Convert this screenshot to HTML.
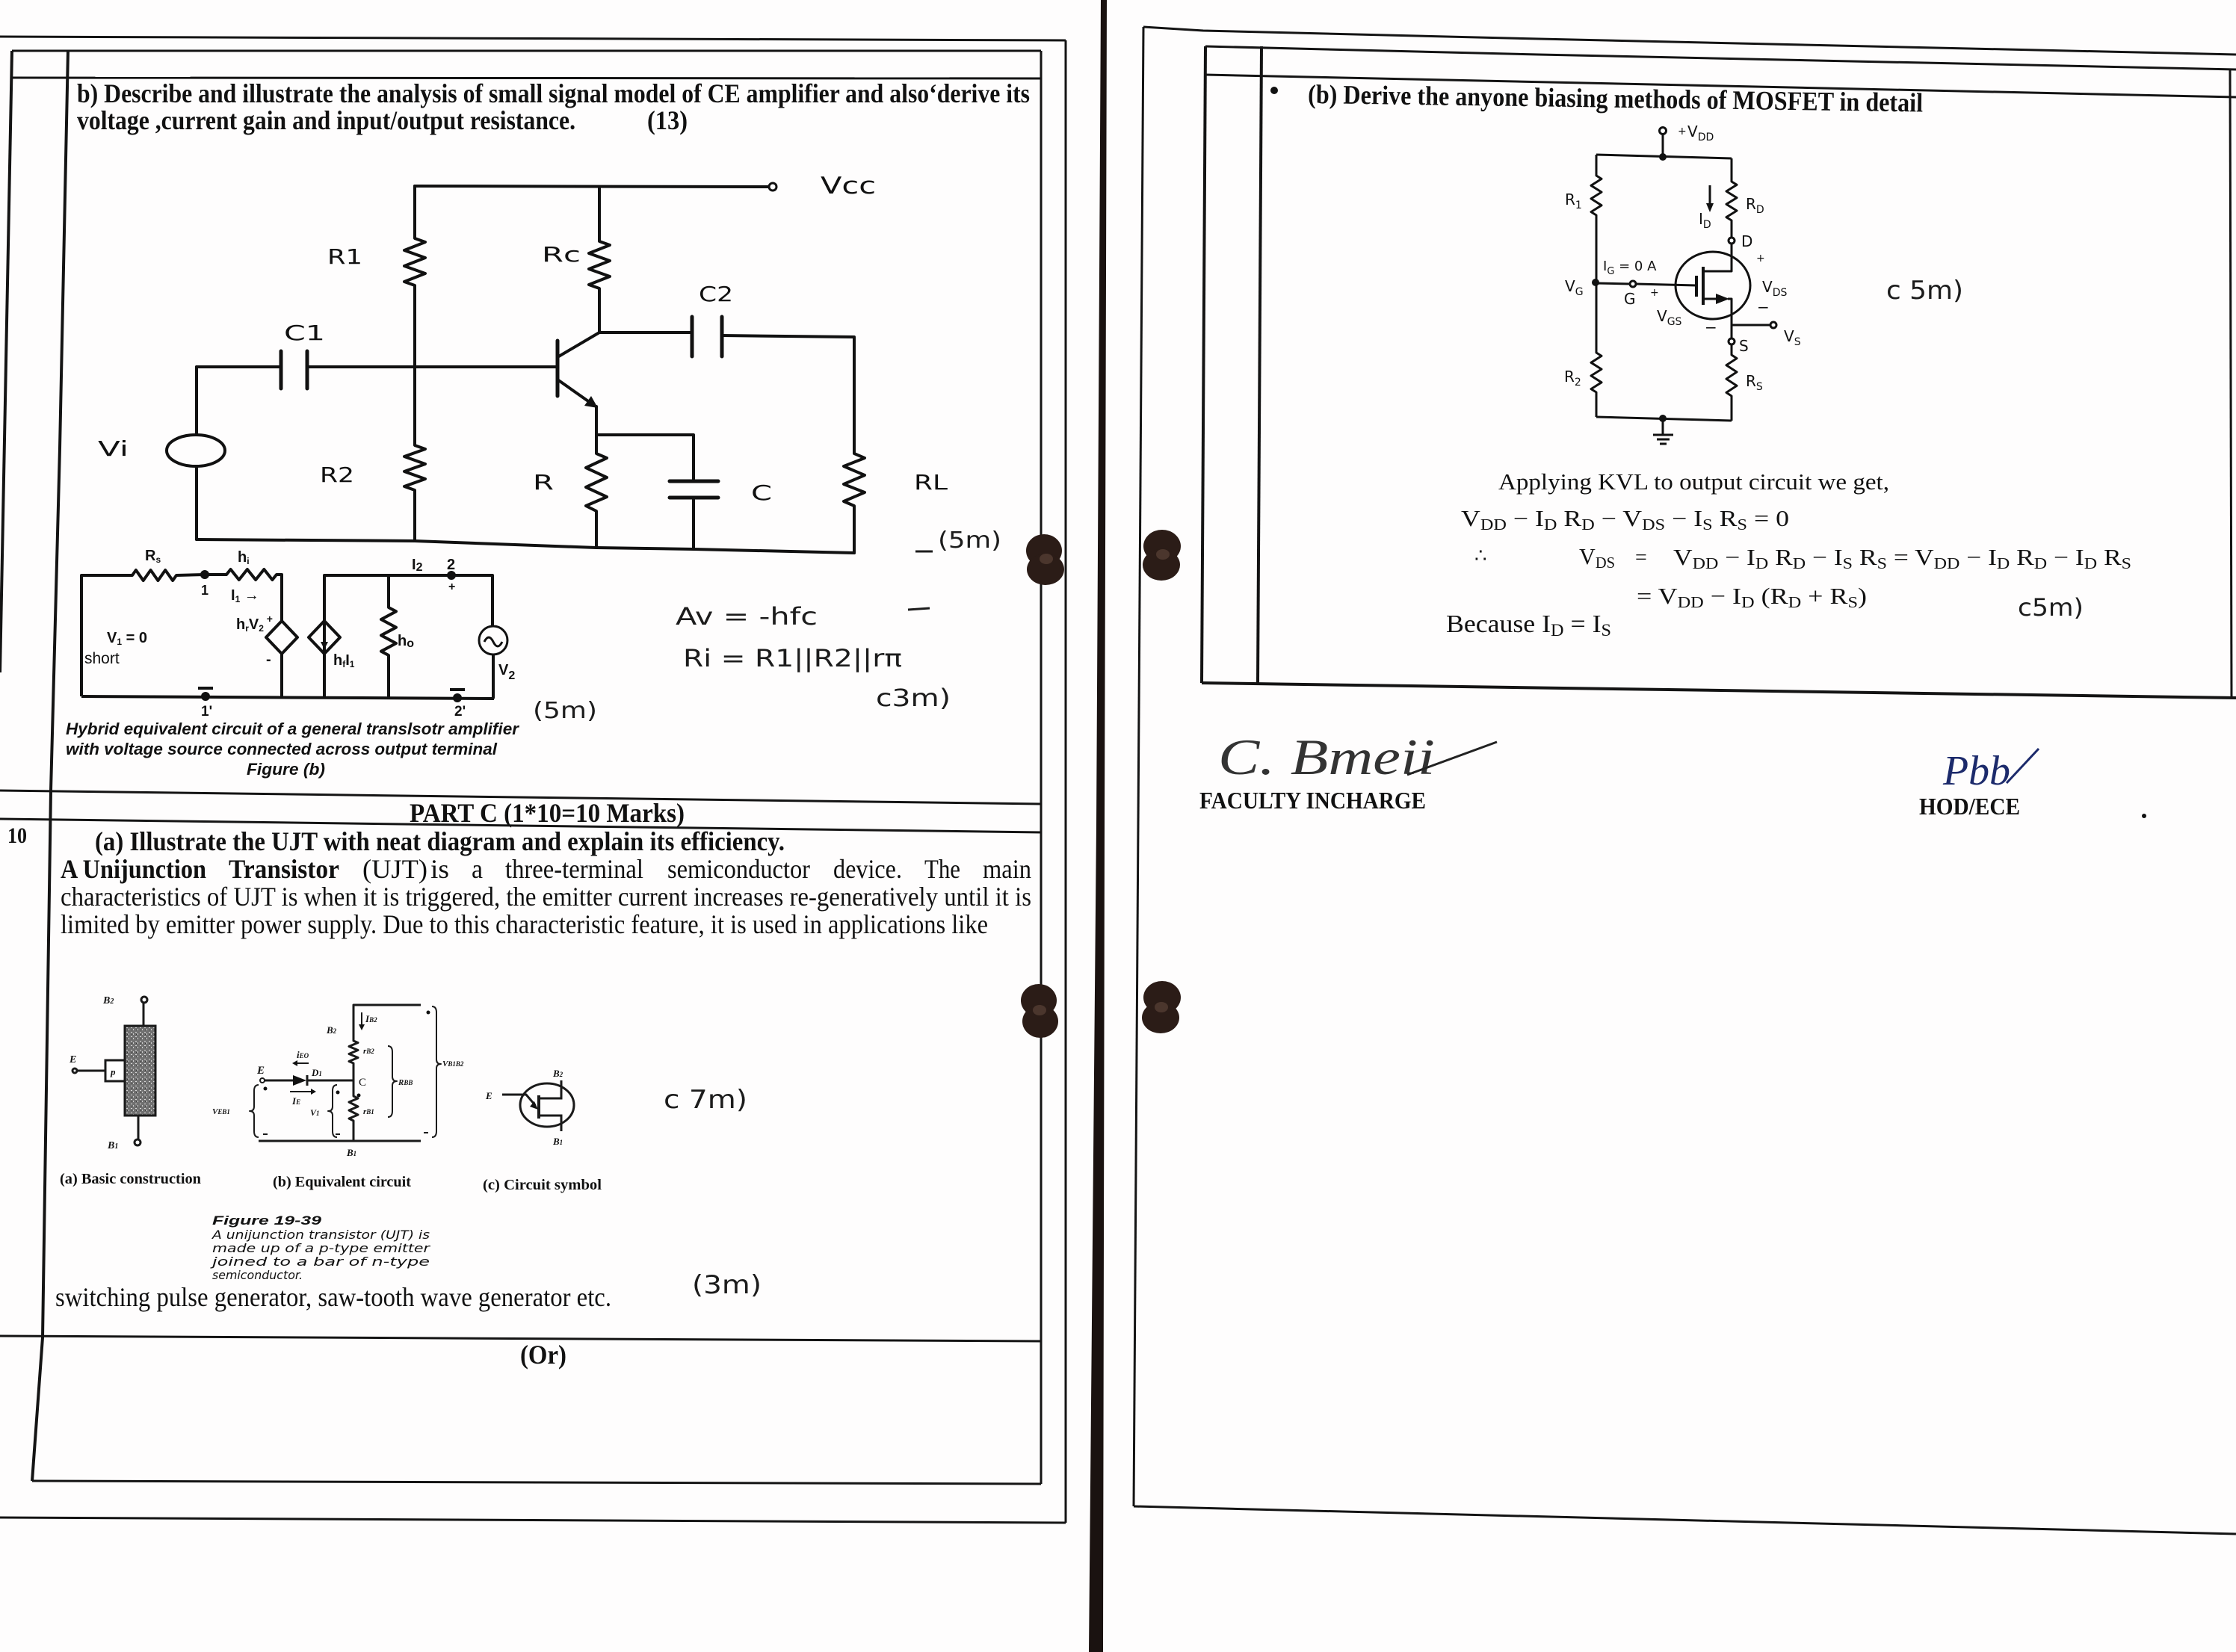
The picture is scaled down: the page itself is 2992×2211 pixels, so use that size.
<!DOCTYPE html>
<html><head><meta charset="utf-8">
<style>
html,body{margin:0;padding:0;background:#fefdfd;}
body{width:2992px;height:2211px;overflow:hidden;position:relative;}
svg{position:absolute;left:0;top:0;}
.s{font-family:"Liberation Serif",serif;}
.sb{font-family:"Liberation Serif",serif;font-weight:bold;}
.a{font-family:"DejaVu Sans","Liberation Sans",sans-serif;}
.lb{font-family:"Liberation Sans",sans-serif;font-weight:bold;}
.hw{font-family:"DejaVu Sans",sans-serif;}
</style></head><body>
<svg width="2992" height="2211" viewBox="0 0 2992 2211" xmlns="http://www.w3.org/2000/svg">
<defs>
<pattern id="stip" width="6" height="6" patternUnits="userSpaceOnUse"><rect width="6" height="6" fill="#707070"/><rect x="1" y="1" width="2" height="1" fill="#d6d6d6"/><rect x="4" y="3" width="1" height="2" fill="#cfcfcf"/><rect x="2" y="4" width="1" height="1" fill="#333"/></pattern>
</defs>

<!-- ===== PAGE / TABLE LINES ===== -->
<g stroke="#141414" stroke-width="3" fill="none">
<line x1="0" y1="49" x2="1426" y2="54"/>
<line x1="1426" y1="54" x2="1426" y2="2038"/>
<line x1="0" y1="2031" x2="1426" y2="2038"/>
<line x1="16" y1="68" x2="1393" y2="68"/>
<line x1="16" y1="104" x2="1393" y2="105"/>
<line x1="16" y1="68" x2="0" y2="900" stroke-width="4"/>
<line x1="1393" y1="68" x2="1393" y2="1986"/>
<polyline points="91,68 80,600 68,1058 57,1790 43,1982" stroke-width="4"/>
<line x1="0" y1="1058" x2="1393" y2="1076"/>
<line x1="0" y1="1096" x2="1393" y2="1114"/>
<line x1="0" y1="1788" x2="1393" y2="1795"/>
<line x1="43" y1="1982" x2="1393" y2="1986"/>

<polyline points="1530,36 1610,41 2059,52 2992,73"/>
<line x1="1530" y1="36" x2="1517" y2="2016"/>
<line x1="1517" y1="2016" x2="2992" y2="2053"/>
<polyline points="1613,62 2059,73 2992,93"/>
<line x1="1613" y1="100" x2="2992" y2="130"/>
<line x1="1613" y1="62" x2="1608" y2="914" stroke-width="4"/>
<line x1="1688" y1="62" x2="1683" y2="914" stroke-width="4"/>
<line x1="2984" y1="92" x2="2986" y2="934" stroke-width="3"/>
<line x1="1608" y1="914" x2="2992" y2="934" stroke-width="4"/>
</g>

<!-- separator -->
<polygon points="1473,0 1481,0 1478,1105 1476,2211 1457,2211 1467,1105" fill="#1a1210"/>

<!-- blobs -->
<g fill="#2b1c17">
<ellipse cx="1397" cy="737" rx="24" ry="22"/><ellipse cx="1399" cy="762" rx="25" ry="21"/>
<ellipse cx="1390" cy="1339" rx="24" ry="22"/><ellipse cx="1392" cy="1367" rx="24" ry="22"/>
<ellipse cx="1555" cy="731" rx="25" ry="22"/><ellipse cx="1554" cy="756" rx="25" ry="21"/>
<ellipse cx="1555" cy="1335" rx="25" ry="22"/><ellipse cx="1553" cy="1362" rx="25" ry="21"/>
</g>
<g fill="#5a4238" opacity="0.7">
<ellipse cx="1400" cy="748" rx="9" ry="7"/><ellipse cx="1391" cy="1352" rx="9" ry="7"/>
<ellipse cx="1556" cy="742" rx="9" ry="7"/><ellipse cx="1554" cy="1348" rx="9" ry="7"/>
</g>

<!-- ===== LEFT HEADER ===== -->
<g fill="#111">
<text class="sb" x="103" y="137" font-size="36" textLength="1275" lengthAdjust="spacingAndGlyphs">b) Describe and illustrate the analysis of small signal model of CE amplifier and also‘derive its</text>
<text class="sb" x="103" y="173" font-size="36" textLength="667" lengthAdjust="spacingAndGlyphs">voltage ,current gain and input/output resistance.</text>
<text class="sb" x="866" y="173" font-size="36" textLength="54" lengthAdjust="spacingAndGlyphs">(13)</text>
</g>

<!-- ===== CE AMPLIFIER ===== -->
<g stroke="#111" stroke-width="4" fill="none" stroke-linejoin="round" stroke-linecap="round">
<line x1="555" y1="249" x2="1028" y2="250"/>
<polyline points="555,249 555,319 569,324 541,335 569,345 541,356 569,366 541,377 555,382 555,596 569,601 541,611 569,621 541,631 569,641 541,651 555,656 555,724"/>
<polyline points="802,250 802,323 816,328 788,339 816,349 788,360 816,370 788,381 802,386 802,445"/>
<line x1="802" y1="445" x2="746" y2="478"/>
<line x1="746" y1="456" x2="746" y2="530" stroke-width="5"/>
<line x1="746" y1="508" x2="790" y2="539"/>
<polyline points="798,544 798,607 812,613 784,626 812,639 784,652 812,665 784,677 798,684 798,733"/>
<polyline points="798,582 928,582 928,644"/>
<line x1="896" y1="644" x2="961" y2="644" stroke-width="5"/>
<line x1="896" y1="666" x2="961" y2="666" stroke-width="5"/>
<line x1="928" y1="666" x2="928" y2="735"/>
<line x1="802" y1="445" x2="926" y2="445"/>
<line x1="926" y1="424" x2="926" y2="477" stroke-width="5"/>
<line x1="966" y1="424" x2="966" y2="477" stroke-width="5"/>
<polyline points="966,449 1143,451 1143,607 1157,613 1129,624 1157,636 1129,648 1157,659 1129,671 1143,677 1143,740"/>
<line x1="263" y1="491" x2="376" y2="491"/>
<line x1="376" y1="470" x2="376" y2="520" stroke-width="5"/>
<line x1="411" y1="470" x2="411" y2="520" stroke-width="5"/>
<line x1="411" y1="491" x2="746" y2="491"/>
<line x1="263" y1="491" x2="263" y2="582"/>
<ellipse cx="262" cy="603" rx="39" ry="21"/>
<line x1="263" y1="624" x2="263" y2="722"/>
<polyline points="263,722 555,724 798,733 928,735 1143,740"/>
<circle cx="1034" cy="250" r="5" stroke-width="3" fill="#fff"/>
</g>
<polygon points="800,546 782,543 791,530" fill="#111"/>
<g class="a" fill="#111">
<text x="1098" y="259" font-size="31" textLength="74" lengthAdjust="spacingAndGlyphs">Vcc</text>
<text x="438" y="353" font-size="28" textLength="47" lengthAdjust="spacingAndGlyphs">R1</text>
<text x="725" y="350" font-size="28" textLength="52" lengthAdjust="spacingAndGlyphs">Rc</text>
<text x="935" y="403" font-size="28" textLength="46" lengthAdjust="spacingAndGlyphs">C2</text>
<text x="380" y="455" font-size="28" textLength="55" lengthAdjust="spacingAndGlyphs">C1</text>
<text x="131" y="610" font-size="28" textLength="41" lengthAdjust="spacingAndGlyphs">Vi</text>
<text x="428" y="645" font-size="28" textLength="46" lengthAdjust="spacingAndGlyphs">R2</text>
<text x="713" y="655" font-size="28" textLength="28" lengthAdjust="spacingAndGlyphs">R</text>
<text x="1005" y="669" font-size="28" textLength="28" lengthAdjust="spacingAndGlyphs">C</text>
<text x="1223" y="655" font-size="28" textLength="45" lengthAdjust="spacingAndGlyphs">RL</text>
</g>

<!-- ===== HYBRID CIRCUIT ===== -->
<g stroke="#111" stroke-width="4" fill="none" stroke-linejoin="round">
<polyline points="109,932 109,770 177,770 181.9,763 191.7,777 201.6,763 211.4,777 221.2,763 231.1,777 236,770 274,769 303,769 308.6,762 319.8,776 330.9,762 342.1,776 353.3,762 364.4,776 370,769 377,769 377,831"/>
<polygon points="377,831 398,853 377,875 356,853"/>
<line x1="377" y1="875" x2="377" y2="932"/>
<line x1="109" y1="932" x2="661" y2="935"/>
<polyline points="434,932 434,770 659,770 659,838"/>
<polygon points="434,831 455,853 434,875 413,853"/>
<line x1="434" y1="840" x2="434" y2="860" stroke-width="3"/>
<polyline points="520,770 520,813 530,818.3 510,829 530,839.7 510,850.3 530,861 510,871.7 520,877 520,933"/>
<circle cx="660" cy="857" r="19" stroke-width="3"/>
<path d="M648 859 q6 -12 12 0 t12 0" stroke-width="3"/>
<line x1="660" y1="876" x2="660" y2="935"/>
<line x1="265" y1="921" x2="285" y2="921"/>
<line x1="602" y1="923" x2="622" y2="923"/>
</g>
<g fill="#111">
<polygon points="434,869 429,859 439,859"/>
<circle cx="274" cy="769" r="6"/><circle cx="275" cy="932" r="6"/>
<circle cx="604" cy="770" r="6"/><circle cx="612" cy="934" r="6"/>
</g>
<g class="lb" fill="#111" font-size="20">
<text x="194" y="750">R<tspan font-size="12" dy="3">s</tspan></text>
<text x="318" y="752">h<tspan font-size="12" dy="3">i</tspan></text>
<text x="269" y="796" font-size="18">1</text>
<text x="309" y="803">I<tspan font-size="12" dy="3">1</tspan><tspan dy="-3"> →</tspan></text>
<text x="316" y="842">h<tspan font-size="12" dy="3">r</tspan><tspan dy="-3">V</tspan><tspan font-size="12" dy="3">2</tspan><tspan font-size="14" dy="-12"> +</tspan></text>
<text x="143" y="860">V<tspan font-size="12" dy="3">1</tspan><tspan dy="-3"> = 0</tspan></text>
<text x="113" y="888" font-weight="normal" font-size="21">short</text>
<text x="356" y="889">-</text>
<text x="446" y="890">h<tspan font-size="12" dy="3">f</tspan><tspan dy="-3">I</tspan><tspan font-size="12" dy="3">1</tspan></text>
<text x="532" y="864">h<tspan font-size="16" dy="2">o</tspan></text>
<text x="551" y="762">I<tspan font-size="16" dy="2">2</tspan></text>
<text x="598" y="762">2</text>
<text x="600" y="790" font-size="16">+</text>
<text x="667" y="903">V<tspan font-size="16" dy="6">2</tspan></text>
<text x="269" y="958" font-size="19">1'</text>
<text x="608" y="958" font-size="19">2'</text>
<text x="88" y="983" font-style="italic" font-size="22" textLength="606" lengthAdjust="spacingAndGlyphs">Hybrid equivalent circuit of a general translsotr amplifier</text>
<text x="88" y="1010" font-style="italic" font-size="22" textLength="577" lengthAdjust="spacingAndGlyphs">with voltage source connected across output terminal</text>
<text x="330" y="1037" font-style="italic" font-size="22" textLength="105" lengthAdjust="spacingAndGlyphs">Figure (b)</text>
</g>

<!-- handwriting -->
<g class="hw" fill="#1c1c1c">
<line x1="1225" y1="738" x2="1248" y2="738" stroke="#1c1c1c" stroke-width="3"/>
<text x="1255" y="733" font-size="30" textLength="85" lengthAdjust="spacingAndGlyphs">(5m)</text>
<text x="904" y="836" font-size="32" textLength="190" lengthAdjust="spacingAndGlyphs">Av = -hfc</text>
<line x1="1215" y1="816" x2="1244" y2="814" stroke="#1c1c1c" stroke-width="3"/>
<text x="914" y="892" font-size="32" textLength="293" lengthAdjust="spacingAndGlyphs">Ri = R1||R2||rπ</text>
<text x="1172" y="945" font-size="32" textLength="100" lengthAdjust="spacingAndGlyphs">c3m)</text>
<text x="713" y="961" font-size="30" textLength="86" lengthAdjust="spacingAndGlyphs">(5m)</text>
<text x="888" y="1483" font-size="34" textLength="112" lengthAdjust="spacingAndGlyphs">c 7m)</text>
<text x="926" y="1731" font-size="34" textLength="93" lengthAdjust="spacingAndGlyphs">(3m)</text>
<text x="2524" y="400" font-size="34" textLength="103" lengthAdjust="spacingAndGlyphs">c 5m)</text>
<text x="2700" y="824" font-size="32" textLength="88" lengthAdjust="spacingAndGlyphs">c5m)</text>
</g>

<!-- ===== PART C / Q10 ===== -->
<g fill="#111">
<text class="sb" x="548" y="1100" font-size="36" textLength="368" lengthAdjust="spacingAndGlyphs">PART C (1*10=10 Marks)</text>
<text class="sb" x="10" y="1128" font-size="30" textLength="26" lengthAdjust="spacingAndGlyphs">10</text>
<text class="sb" x="127" y="1138" font-size="36" textLength="923" lengthAdjust="spacingAndGlyphs">(a) Illustrate the UJT with neat diagram and explain its efficiency.</text>
<text class="sb" x="81" y="1175" font-size="36" textLength="195" lengthAdjust="spacingAndGlyphs">A Unijunction</text>
<text class="sb" x="306" y="1175" font-size="36" textLength="148" lengthAdjust="spacingAndGlyphs">Transistor</text>
<text class="s" x="485" y="1175" font-size="36" textLength="87" lengthAdjust="spacingAndGlyphs">(UJT)</text>
<text class="s" x="576" y="1175" font-size="36" textLength="25" lengthAdjust="spacingAndGlyphs">is</text>
<text class="s" x="631" y="1175" font-size="36" textLength="15" lengthAdjust="spacingAndGlyphs">a</text>
<text class="s" x="676" y="1175" font-size="36" textLength="185" lengthAdjust="spacingAndGlyphs">three-terminal</text>
<text class="s" x="893" y="1175" font-size="36" textLength="191" lengthAdjust="spacingAndGlyphs">semiconductor</text>
<text class="s" x="1115" y="1175" font-size="36" textLength="92" lengthAdjust="spacingAndGlyphs">device.</text>
<text class="s" x="1237" y="1175" font-size="36" textLength="48" lengthAdjust="spacingAndGlyphs">The</text>
<text class="s" x="1315" y="1175" font-size="36" textLength="65" lengthAdjust="spacingAndGlyphs">main</text>
<text class="s" x="81" y="1212" font-size="36" textLength="1299" lengthAdjust="spacingAndGlyphs">characteristics of UJT is when it is triggered, the emitter current increases re-generatively until it is</text>
<text class="s" x="81" y="1249" font-size="36" textLength="1241" lengthAdjust="spacingAndGlyphs">limited by emitter power supply. Due to this characteristic feature, it is used in applications like</text>
<text class="s" x="74" y="1748" font-size="36" textLength="744" lengthAdjust="spacingAndGlyphs">switching pulse generator, saw-tooth wave generator etc.</text>
<text class="sb" x="696" y="1825" font-size="36" textLength="62" lengthAdjust="spacingAndGlyphs">(Or)</text>
</g>

<!-- ===== UJT FIGURE ===== -->
<g stroke="#1a1a1a" stroke-width="3" fill="none">
<line x1="192" y1="1342" x2="192" y2="1373"/>
<rect x="167" y="1373" width="41" height="120" fill="url(#stip)"/>
<rect x="141" y="1419" width="26" height="28" fill="#fff"/>
<line x1="103" y1="1433" x2="141" y2="1433"/>
<line x1="185" y1="1493" x2="185" y2="1525"/>
<circle cx="193" cy="1338" r="4" fill="#fff"/>
<circle cx="100" cy="1433" r="3" fill="#fff"/>
<circle cx="184" cy="1529" r="4" fill="#fff"/>
</g>
<g class="sb" fill="#111" font-style="italic" font-size="14">
<text x="138" y="1343">B<tspan font-size="10">2</tspan></text>
<text x="93" y="1422">E</text>
<text x="148" y="1439" font-size="13">p</text>
<text x="144" y="1537">B<tspan font-size="10">1</tspan></text>
</g>
<g stroke="#1a1a1a" stroke-width="3" fill="none" stroke-linejoin="round">
<polyline points="473,1392 473,1345 563,1345"/>
<polyline points="473,1392 473,1393 479,1395.5 467,1400.5 479,1405.5 467,1410.5 479,1415.5 467,1420.5 473,1423 473,1467 479,1470 467,1475 479,1481 467,1486 479,1492 467,1497 473,1500 473,1527"/>
<line x1="354" y1="1446" x2="392" y2="1446"/>
<line x1="411" y1="1439" x2="411" y2="1453"/>
<line x1="411" y1="1446" x2="473" y2="1446"/>
<line x1="346" y1="1527" x2="563" y2="1527"/>
<line x1="413" y1="1423" x2="396" y2="1423" stroke-width="2"/>
<line x1="388" y1="1461" x2="418" y2="1461" stroke-width="2"/>
<line x1="484" y1="1355" x2="484" y2="1374" stroke-width="2"/>
<path d="M519 1400 Q525 1400 525 1408 L525 1441 Q525 1447 531 1447 Q525 1447 525 1453 L525 1487 Q525 1495 519 1495" stroke-width="2"/>
<path d="M578 1347 Q584 1347 584 1355 L584 1418 Q584 1424 590 1424 Q584 1424 584 1430 L584 1514 Q584 1522 578 1522" stroke-width="2"/>
<path d="M346 1452 Q340 1452 340 1460 L340 1481 Q340 1487 334 1487 Q340 1487 340 1493 L340 1514 Q340 1522 346 1522" stroke-width="2"/>
<path d="M451 1452 Q445 1452 445 1460 L445 1481 Q445 1487 439 1487 Q445 1487 445 1493 L445 1514 Q445 1522 451 1522" stroke-width="2"/>
<circle cx="351" cy="1446" r="3" fill="#fff" stroke-width="2"/>
<line x1="352" y1="1518" x2="358" y2="1518" stroke-width="2"/>
<line x1="449" y1="1518" x2="455" y2="1518" stroke-width="2"/>
<line x1="567" y1="1516" x2="573" y2="1516" stroke-width="2"/>
</g>
<g fill="#111">
<polygon points="392,1439 392,1453 410,1446"/>
<polygon points="391,1423 398,1419 398,1427"/>
<polygon points="423,1461 416,1457 416,1465"/>
<polygon points="484,1379 480,1371 488,1371"/>
<circle cx="355" cy="1457" r="2.5"/><circle cx="452" cy="1462" r="2.5"/><circle cx="480" cy="1466" r="2.5"/><circle cx="573" cy="1355" r="2.5"/>
</g>
<g class="sb" fill="#111" font-style="italic" font-size="13">
<text x="344" y="1437" font-size="15">E</text>
<text x="397" y="1416">i<tspan font-size="9">EO</tspan></text>
<text x="417" y="1440">D<tspan font-size="9">1</tspan></text>
<text x="480" y="1453" font-size="15" font-style="normal" font-weight="normal">C</text>
<text x="391" y="1478">I<tspan font-size="9">E</tspan></text>
<text x="437" y="1383">B<tspan font-size="9">2</tspan></text>
<text x="489" y="1368">I<tspan font-size="9">B2</tspan></text>
<text x="486" y="1410" font-size="11">r<tspan font-size="9">B2</tspan></text>
<text x="486" y="1491" font-size="11">r<tspan font-size="9">B1</tspan></text>
<text x="533" y="1452" font-size="11">R<tspan font-size="9">BB</tspan></text>
<text x="592" y="1427" font-size="11">V<tspan font-size="9">B1B2</tspan></text>
<text x="284" y="1491" font-size="11">V<tspan font-size="9">EB1</tspan></text>
<text x="415" y="1493" font-size="12">V<tspan font-size="9">1</tspan></text>
<text x="464" y="1547">B<tspan font-size="9">1</tspan></text>
</g>
<g stroke="#1a1a1a" stroke-width="3" fill="none">
<ellipse cx="732" cy="1479" rx="36" ry="29"/>
<polyline points="672,1465 704,1465 716,1479"/>
<line x1="721" y1="1466" x2="721" y2="1497" stroke-width="4"/>
<polyline points="721,1470 751,1470 751,1446"/>
<polyline points="721,1493 751,1493 751,1514"/>
</g>
<polygon points="720,1485 709,1481 715,1474" fill="#111"/>
<g class="sb" fill="#111" font-style="italic" font-size="13">
<text x="650" y="1471">E</text>
<text x="740" y="1441">B<tspan font-size="9">2</tspan></text>
<text x="740" y="1532">B<tspan font-size="9">1</tspan></text>
</g>
<g fill="#111">
<text class="sb" x="80" y="1584" font-size="20" textLength="189" lengthAdjust="spacingAndGlyphs">(a) Basic construction</text>
<text class="sb" x="365" y="1588" font-size="20" textLength="185" lengthAdjust="spacingAndGlyphs">(b) Equivalent circuit</text>
<text class="sb" x="646" y="1592" font-size="20" textLength="159" lengthAdjust="spacingAndGlyphs">(c) Circuit symbol</text>
<text class="lb" x="284" y="1639" font-size="17" font-style="italic" textLength="146" lengthAdjust="spacingAndGlyphs">Figure  19-39</text>
<text class="a" x="284" y="1658" font-size="16" font-style="italic" textLength="291" lengthAdjust="spacingAndGlyphs">A unijunction transistor (UJT) is</text>
<text class="a" x="284" y="1676" font-size="16" font-style="italic" textLength="291" lengthAdjust="spacingAndGlyphs">made up of a p-type emitter</text>
<text class="a" x="284" y="1694" font-size="16" font-style="italic" textLength="291" lengthAdjust="spacingAndGlyphs">joined to a bar of n-type</text>
<text class="a" x="284" y="1712" font-size="16" font-style="italic" textLength="121" lengthAdjust="spacingAndGlyphs">semiconductor.</text>
</g>

<!-- ===== RIGHT PAGE HEADER ===== -->
<circle cx="1705" cy="121" r="5" fill="#111"/>
<text class="sb" x="1750" y="138" font-size="36" fill="#111" textLength="823" lengthAdjust="spacingAndGlyphs" transform="rotate(0.8 1750 138)">(b) Derive the anyone biasing methods of MOSFET  in detail</text>

<!-- ===== MOSFET CIRCUIT ===== -->
<g stroke="#111" stroke-width="3" fill="none" stroke-linejoin="round">
<line x1="2225" y1="180" x2="2225" y2="210"/>
<line x1="2136" y1="207" x2="2317" y2="212"/>
<polyline points="2136,207 2136,235 2143,239.4 2129,248.3 2143,257.1 2129,265.9 2143,274.8 2129,283.6 2136,288 2136,472 2143,476.4 2129,485.3 2143,494.1 2129,502.9 2143,511.8 2129,520.6 2136,525 2136,558"/>
<line x1="2136" y1="558" x2="2317" y2="563"/>
<line x1="2225" y1="560" x2="2225" y2="582"/>
<line x1="2212" y1="582" x2="2239" y2="582"/>
<line x1="2217" y1="588" x2="2234" y2="588"/>
<line x1="2221" y1="594" x2="2230" y2="594"/>
<polyline points="2317,212 2317,243 2324,247.3 2310,256 2324,264.7 2310,273.3 2324,282 2310,290.7 2317,295 2317,318"/>
<polyline points="2317,326 2317,363 2280,363"/>
<ellipse cx="2292" cy="382" rx="50" ry="45"/>
<line x1="2136" y1="379" x2="2181" y2="380"/>
<line x1="2189" y1="380" x2="2270" y2="382"/>
<line x1="2270" y1="369" x2="2270" y2="397" stroke-width="4"/>
<line x1="2279" y1="357" x2="2279" y2="408" stroke-width="4"/>
<line x1="2279" y1="400" x2="2298" y2="400"/>
<polyline points="2312,400 2317,400 2317,453"/>
<line x1="2317" y1="435" x2="2369" y2="435"/>
<polyline points="2317,461 2317,475 2324,479.6 2310,488.8 2324,497.9 2310,507.1 2324,516.3 2310,525.4 2317,530 2317,563"/>
<line x1="2288" y1="248" x2="2288" y2="274"/>
<circle cx="2225" cy="175" r="4.5" fill="#fff"/>
<circle cx="2317" cy="322" r="4" fill="#fff"/>
<circle cx="2185" cy="380" r="4" fill="#fff"/>
<circle cx="2317" cy="457" r="4" fill="#fff"/>
<circle cx="2373" cy="435" r="4" fill="#fff"/>
</g>
<g fill="#111">
<circle cx="2225" cy="210" r="5"/><circle cx="2135" cy="378" r="5"/><circle cx="2225" cy="560" r="5"/>
<polygon points="2314,400 2296,393 2296,407"/>
<polygon points="2288,284 2283,272 2293,272"/>
</g>
<g class="a" fill="#111" font-size="20">
<text x="2245" y="180" font-size="14">+</text>
<text x="2258" y="183">V<tspan font-size="14" dy="5">DD</tspan></text>
<text x="2094" y="274">R<tspan font-size="14" dy="5">1</tspan></text>
<text x="2336" y="280">R<tspan font-size="14" dy="5">D</tspan></text>
<text x="2273" y="300">I<tspan font-size="14" dy="5">D</tspan></text>
<text x="2330" y="330">D</text>
<text x="2350" y="350" font-size="14">+</text>
<text x="2145" y="362" font-size="18">I<tspan font-size="13" dy="5">G</tspan><tspan dy="-5"> = 0 A</tspan></text>
<text x="2094" y="390">V<tspan font-size="14" dy="5">G</tspan></text>
<text x="2173" y="407">G</text>
<text x="2208" y="396" font-size="14">+</text>
<text x="2358" y="391">V<tspan font-size="14" dy="5">DS</tspan></text>
<text x="2351" y="418">−</text>
<text x="2217" y="430">V<tspan font-size="14" dy="5">GS</tspan></text>
<text x="2281" y="445">−</text>
<text x="2387" y="457">V<tspan font-size="14" dy="5">S</tspan></text>
<text x="2327" y="470">S</text>
<text x="2093" y="511">R<tspan font-size="14" dy="5">2</tspan></text>
<text x="2336" y="517">R<tspan font-size="14" dy="5">S</tspan></text>
</g>

<!-- ===== EQUATIONS ===== -->
<g class="s" fill="#111">
<text x="2005" y="655" font-size="31" textLength="523" lengthAdjust="spacingAndGlyphs">Applying KVL to output circuit we get,</text>
<text x="1955" y="704" font-size="31" textLength="439" lengthAdjust="spacingAndGlyphs">V<tspan font-size="21" dy="5">DD</tspan><tspan dy="-5"> − I</tspan><tspan font-size="21" dy="5">D</tspan><tspan dy="-5"> R</tspan><tspan font-size="21" dy="5">D</tspan><tspan dy="-5"> − V</tspan><tspan font-size="21" dy="5">DS</tspan><tspan dy="-5"> − I</tspan><tspan font-size="21" dy="5">S</tspan><tspan dy="-5"> R</tspan><tspan font-size="21" dy="5">S</tspan><tspan dy="-5"> = 0</tspan></text>
<text x="1973" y="752" font-size="26">∴</text>
<text x="2113" y="755" font-size="31" textLength="48" lengthAdjust="spacingAndGlyphs">V<tspan font-size="21" dy="5">DS</tspan></text>
<text x="2188" y="755" font-size="28">=</text>
<text x="2239" y="756" font-size="31" textLength="613" lengthAdjust="spacingAndGlyphs">V<tspan font-size="21" dy="5">DD</tspan><tspan dy="-5"> − I</tspan><tspan font-size="21" dy="5">D</tspan><tspan dy="-5"> R</tspan><tspan font-size="21" dy="5">D</tspan><tspan dy="-5"> − I</tspan><tspan font-size="21" dy="5">S</tspan><tspan dy="-5"> R</tspan><tspan font-size="21" dy="5">S</tspan><tspan dy="-5"> = V</tspan><tspan font-size="21" dy="5">DD</tspan><tspan dy="-5"> − I</tspan><tspan font-size="21" dy="5">D</tspan><tspan dy="-5"> R</tspan><tspan font-size="21" dy="5">D</tspan><tspan dy="-5"> − I</tspan><tspan font-size="21" dy="5">D</tspan><tspan dy="-5"> R</tspan><tspan font-size="21" dy="5">S</tspan></text>
<text x="2190" y="808" font-size="31" textLength="308" lengthAdjust="spacingAndGlyphs">=  V<tspan font-size="21" dy="5">DD</tspan><tspan dy="-5"> − I</tspan><tspan font-size="21" dy="5">D</tspan><tspan dy="-5"> (R</tspan><tspan font-size="21" dy="5">D</tspan><tspan dy="-5"> + R</tspan><tspan font-size="21" dy="5">S</tspan><tspan dy="-5">)</tspan></text>
<text x="1935" y="846" font-size="34" textLength="221" lengthAdjust="spacingAndGlyphs">Because I<tspan font-size="23" dy="5">D</tspan><tspan dy="-5"> = I</tspan><tspan font-size="23" dy="5">S</tspan></text>
</g>

<!-- ===== SIGNATURES ===== -->
<g fill="#111">
<text class="s" x="1630" y="1036" font-size="68" font-style="italic" fill="#333" textLength="290" lengthAdjust="spacingAndGlyphs">C. Bmeii</text>
<path d="M1883 1037 L2003 993" stroke="#222" stroke-width="3" fill="none"/>
<text class="s" x="2600" y="1050" font-size="56" font-style="italic" fill="#1c2a6b" textLength="90" lengthAdjust="spacingAndGlyphs">Pbb</text>
<path d="M2685 1048 L2728 1002" stroke="#1c2a6b" stroke-width="3" fill="none"/>
<text class="sb" x="1605" y="1082" font-size="32" textLength="303" lengthAdjust="spacingAndGlyphs">FACULTY INCHARGE</text>
<text class="sb" x="2568" y="1090" font-size="32" textLength="135" lengthAdjust="spacingAndGlyphs">HOD/ECE</text>
<circle cx="2869" cy="1092" r="3"/>
</g>
</svg>
</body></html>
